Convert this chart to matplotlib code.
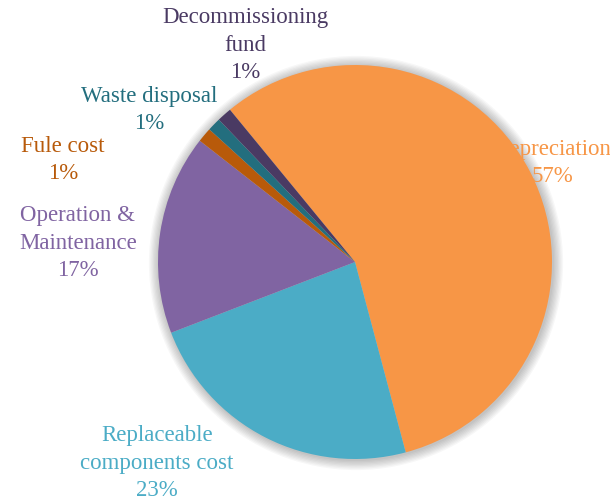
import numpy as np
import matplotlib
matplotlib.use('Agg')
import matplotlib.pyplot as plt
from matplotlib.patches import Circle

#Cost shares
labels = ['Depreciation', 'Replaceable\ncomponents cost', 'Operation &\nMaintenance',
          'Fule cost', 'Waste disposal', 'Decommissioning\nfund']
shares = [56.8, 23.3, 16.4, 1.2, 1.1, 1.2]
pct_text = ['57%', '23%', '17%', '1%', '1%', '1%']
colors = ['#F79646', '#4BACC6', '#8064A2', '#B85A0A', '#236E7E', '#4A3A63']
text_colors = ['#F79646', '#4BACC6', '#8064A2', '#B85A0A', '#236E7E', '#4A3A63']

#label centres in pixel coords (x, y from top)
label_pos = [(552, 163), (157, 463), (78, 243), (63, 160), (149, 110), (245, 45)]

W, H = 610, 503
fig = plt.figure(figsize=(6.1, 5.03), dpi=100)
ax = fig.add_axes([0, 0, 1, 1])
ax.set_xlim(0, W)
ax.set_ylim(0, H)
ax.set_aspect('equal')
ax.axis('off')

cx, cy, r = 355, H - 262, 197

#soft shadow around the pie
for k in range(8):
    ax.add_patch(Circle((cx + 1, cy - 1), r + 1 + k * 1.3, color='black', alpha=0.03, lw=0, zorder=0))

ax.pie(shares, colors=colors, startangle=129.4, counterclock=False,
       center=(cx, cy), radius=r, frame=True,
       wedgeprops=dict(linewidth=0, zorder=6))
ax.set_xlim(0, W)
ax.set_ylim(0, H)
ax.axis('off')

for lab, pct, c, (x, y) in zip(labels, pct_text, text_colors, label_pos):
    ax.text(x, H - y, lab + '\n' + pct, color=c, ha='center', va='center',
            fontsize=16.5, family='Liberation Serif', linespacing=1.42, zorder=5,
            clip_on=False)

plt.savefig('out.png', dpi=100)
